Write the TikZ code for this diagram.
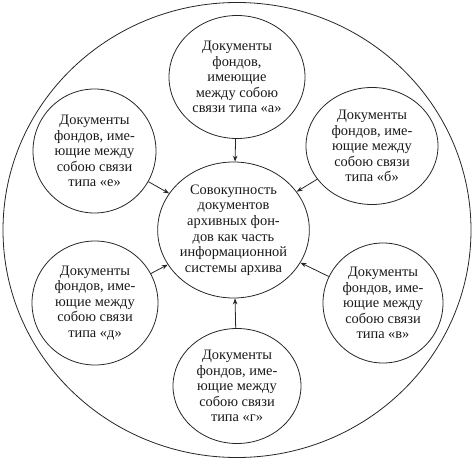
\documentclass[tikz,border=0pt]{standalone}
\usepackage{fontspec}
\setmainfont{Liberation Serif}
\usetikzlibrary{shapes.geometric,arrows.meta}
\begin{document}
\begin{tikzpicture}[x=1pt,y=-1pt,
  bub/.style={draw=black!85, line width=0.8pt, ellipse, inner sep=0pt, align=center,
    font=\fontsize{14.4}{15.6}\selectfont, text=black!90},
  arr/.style={draw=black!85, line width=0.8pt, -{Stealth[length=6pt,width=4.5pt]}}]
\useasboundingbox (0,0) rectangle (474,460);
\node[bub, minimum width=468pt, minimum height=455pt] (outer) at (237,230) {};
\node[bub, minimum width=139pt, minimum height=136pt] (c) at (233.5,230)
  {Совокупность\\документов\\архивных фон-\\дов как часть\\информационной\\системы архива};
\node[bub, minimum width=136pt, minimum height=123pt] (a) at (237,77)
  {Документы\\фондов,\\имеющие\\между собою\\связи типа «а»};
\node[bub, minimum width=132pt, minimum height=117pt] (b) at (372,146)
  {Документы\\фондов, име-\\ющие между\\собою связи\\типа «б»};
\node[bub, minimum width=120pt, minimum height=120pt] (v) at (383,303)
  {Документы\\фондов, име-\\ющие между\\собою связи\\типа «в»};
\node[bub, minimum width=128pt, minimum height=115pt] (g) at (237,386)
  {Документы\\фондов, име-\\ющие между\\собою связи\\типа «г»};
\node[bub, minimum width=126pt, minimum height=124pt] (d) at (95,303)
  {Документы\\фондов, име-\\ющие между\\собою связи\\типа «д»};
\node[bub, minimum width=123pt, minimum height=124pt] (e) at (94.5,151)
  {Документы\\фондов, име-\\ющие между\\собою связи\\типа «е»};
\draw[arr] (a) -- (c);
\draw[arr] (b) -- (c);
\draw[arr] (v) -- (c);
\draw[arr] (g) -- (c);
\draw[arr] (d) -- (c);
\draw[arr] (e) -- (c);
\end{tikzpicture}
\end{document}
